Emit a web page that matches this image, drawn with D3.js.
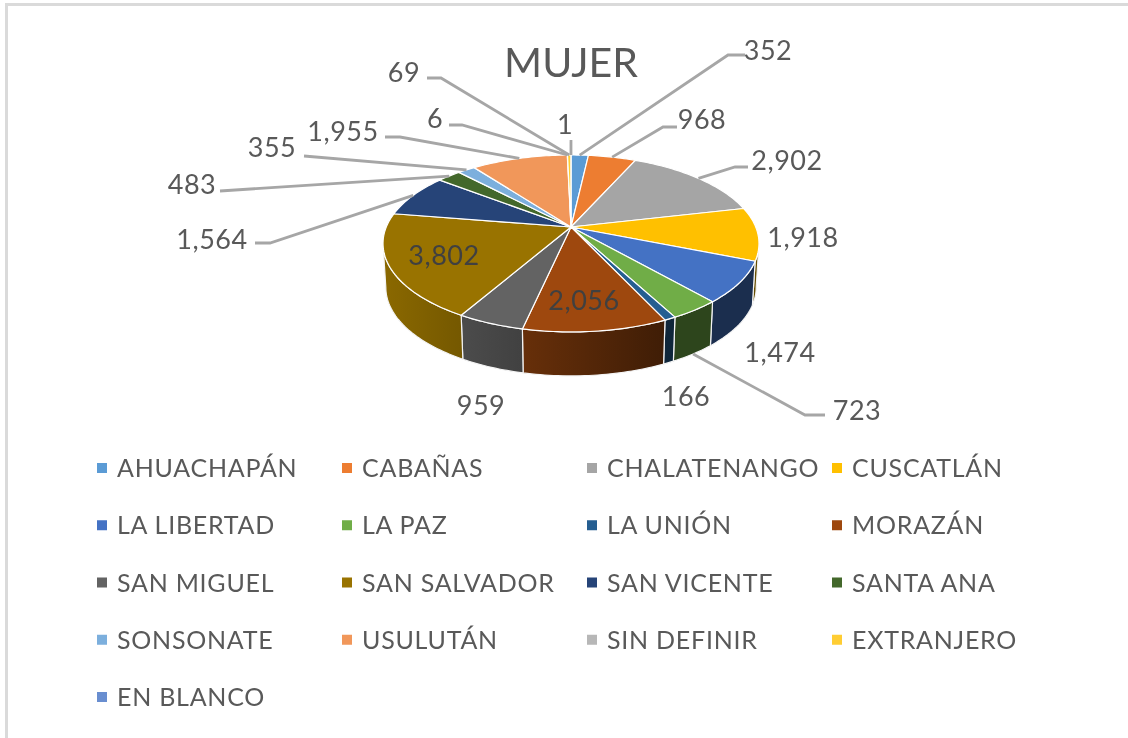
<!DOCTYPE html>
<html><head><meta charset="utf-8">
<script src="https://cdn.jsdelivr.net/npm/d3@7"></script>
<style>html,body{margin:0;padding:0;background:#fff;overflow:hidden}svg{display:block;filter:blur(0.45px)}text{font-family:Lato,"Open Sans",sans-serif;fill:#595959}</style>
</head><body><svg id="c" width="1128" height="738"></svg>
<script>
const chartTitle = "MUJER";
const categories = ["AHUACHAPÁN","CABAÑAS","CHALATENANGO","CUSCATLÁN","LA LIBERTAD","LA PAZ","LA UNIÓN","MORAZÁN","SAN MIGUEL","SAN SALVADOR","SAN VICENTE","SANTA ANA","SONSONATE","USULUTÁN","SIN DEFINIR","EXTRANJERO","EN BLANCO"];
const values = [352,968,2902,1918,1474,723,166,2056,959,3802,1564,483,355,1955,6,69,1];
const colors = ["#5B9BD5","#ED7D31","#A5A5A5","#FFC000","#4472C4","#70AD47","#255E91","#9E480E","#636363","#997300","#264478","#43682B","#7CAFDD","#F1975A","#B7B7B7","#FFCD33","#698ED0"];

// label layout: centre of each value label, in category order
const labelPos = [[768,49],[702,118],[787,159],[803,236],[780,351],[857,409],[686,395],[584,299],[481,404],[444,254],[212,238],[192,183],[272,146],[343,130],[435,117],[404,71],[565,123]];
// leader stubs: [stub end near label, elbow]; null = no leader
const leaderPts = [[[745,55],[728,55]],[[677,127],[663,127]],[[748,167],[735,167]],null,null,[[825,415],[805,415]],null,null,null,null,[[255,243],[270,243]],[[220,191],[220,191]],[[304,156],[304,156]],[[385,137],[400,137]],[[449,125],[462,125]],[[427,78],[441,78]],[[571,140],[571,140]]];

const svg = d3.select("#c"), defs = svg.append("defs");
// frame
svg.append("path").attr("d","M6.5,738V4.5H1128").attr("fill","none").attr("stroke","#dadada").attr("stroke-width",3);

svg.append("text").attr("x",571).attr("y",61).attr("text-anchor","middle").attr("dominant-baseline","central").style("font-size","41px").text(chartTitle);

// projective mapping of the pie disc
const cx=571, cy=227, A=184.7, B=85.4, P=0.186, DEPTH=44, SHRINK=0.985;
const proj=(a,r=1)=>{const u=r*Math.sin(a),v=-r*Math.cos(a),w=1-P*v;return [cx+A*u/w,cy+B*v/w];};
const lower=p=>[cx+(p[0]-cx)*SHRINK,p[1]+DEPTH];
const line=d3.line();
const pie=d3.pie().sort(null).value(d=>d);
const arcs=pie(values);
const samples=(a0,a1)=>{const n=Math.max(2,Math.ceil((a1-a0)/0.02));return d3.range(n+1).map(i=>a0+(a1-a0)*i/n);};

// walls, visible between the silhouette angles
const aL=Math.PI-Math.acos(P), aR=Math.PI+Math.acos(P);
const shade=d3.scaleLinear().domain([385,665,755]).range([0.9,0.4,0.4]);
const shadeAt=(c,k)=>{const r=d3.rgb(c);return d3.rgb(r.r*k,r.g*k,r.b*k).formatHex();};
arcs.forEach((d,i)=>{
  const a0=Math.max(d.startAngle,aL), a1=Math.min(d.endAngle,aR);
  if(a1<=a0) return;
  const g=defs.append("linearGradient").attr("id","w"+i).attr("gradientUnits","userSpaceOnUse").attr("x1",385).attr("x2",755).attr("y1",0).attr("y2",0);
  shade.domain().forEach(x=>g.append("stop").attr("offset",(x-385)/370).attr("stop-color",shadeAt(colors[i],shade(x))));
  const top=samples(a0,a1).map(a=>proj(a));
  svg.append("path").attr("d",line(top.concat(top.slice().reverse().map(lower)))+"Z").attr("fill",`url(#w${i})`).attr("stroke","#f4f4f4").attr("stroke-width",1.2).attr("stroke-linejoin","round");
});
// tops
arcs.forEach((d,i)=>{
  const pts=[[cx,cy]].concat(samples(d.startAngle,d.endAngle).map(a=>proj(a)));
  svg.append("path").attr("d",line(pts)+"Z").attr("fill",colors[i]).attr("stroke","#fff").attr("stroke-width",d.value<10?0.4:1.2).attr("stroke-linejoin","round");
});
// leaders
arcs.forEach((d,i)=>{
  if(!leaderPts[i]) return;
  let rim=proj((d.startAngle+d.endAngle)/2);
  if(rim[1]>cy+20) rim=lower(rim);
  svg.append("path").attr("d",line([leaderPts[i][0],leaderPts[i][1],rim])).attr("fill","none").attr("stroke","#a6a6a6").attr("stroke-width",2.8);
});
// value labels
const fmt=d3.format(",");
const insideLabels=[2056,3802];
values.forEach((v,i)=>svg.append("text").attr("x",labelPos[i][0]).attr("y",labelPos[i][1]).attr("text-anchor","middle").attr("dominant-baseline","central").style("font-size","27px").style("letter-spacing","0.5px").style("fill",insideLabels.includes(v)?"#404040":null).text(fmt(v)));

// legend
const legX=d3.scalePoint().domain(d3.range(4)).range([97,832]);
const legY=d3.scalePoint().domain(d3.range(5)).range([467,696]);
categories.forEach((c,i)=>{
  const col=i%4,row=Math.floor(i/4);
  svg.append("rect").attr("x",legX(col)).attr("y",legY(row)-4).attr("width",10).attr("height",10).attr("fill",colors[i]);
  svg.append("text").attr("x",legX(col)+20).attr("y",legY(row)).attr("dominant-baseline","central").style("font-size","25px").style("letter-spacing","0.75px").text(c);
});
</script></body></html>
